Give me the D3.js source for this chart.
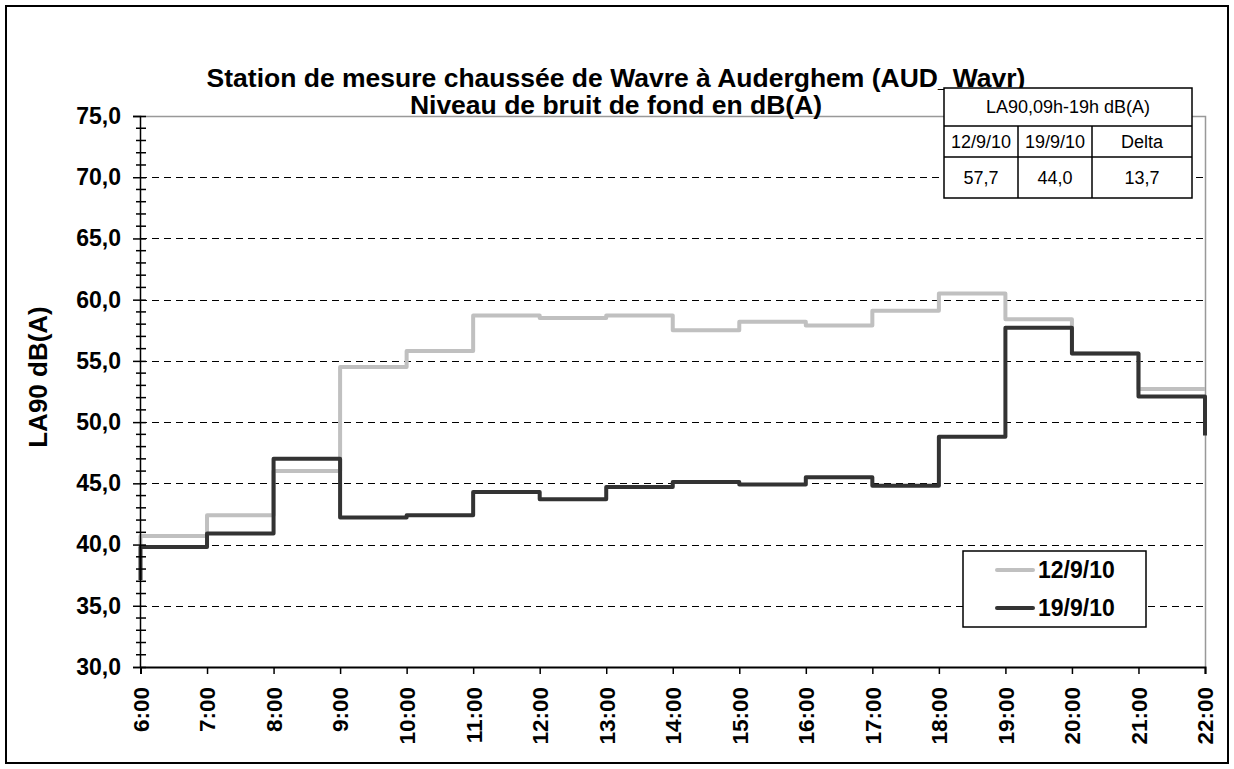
<!DOCTYPE html>
<html>
<head>
<meta charset="utf-8">
<script src="https://cdn.jsdelivr.net/npm/d3@7"></script>
<style>
  body { margin: 0; background: #fff; }
  text { font-family: Arial, "Liberation Sans", sans-serif; }
</style>
</head>
<body>
<div id="chart"></div>
<script>
// Data
var hourLabels = ["6:00","7:00","8:00","9:00","10:00","11:00","12:00","13:00","14:00",
                  "15:00","16:00","17:00","18:00","19:00","20:00","21:00","22:00"];
var hours = d3.range(6, 23);

// hourly LA90 (value held from each hour to the next), plus start / end values
var sep12 = [40.7, 42.4, 46.0, 54.5, 55.8, 58.7, 58.5, 58.7, 57.5, 58.2, 57.9, 59.1, 60.5, 58.4, 55.6, 52.7];
var sep12Start = 40.0, sep12End = 52.7;
var sep19 = [39.8, 40.9, 47.0, 42.2, 42.4, 44.3, 43.7, 44.7, 45.1, 44.9, 45.5, 44.8, 48.8, 57.7, 55.6, 52.1];
var sep19Start = 37.1, sep19End = 48.9;

var seriesNames = ["12/9/10", "19/9/10"];
var seriesColors = ["#c0c0c0", "#333333"];

var yTicks = [30, 35, 40, 45, 50, 55, 60, 65, 70, 75];

var tableHeader = "LA90,09h-19h dB(A)";
var tableCols = ["12/9/10", "19/9/10", "Delta"];
var tableVals = ["57,7", "44,0", "13,7"];

// SVG
var svgWidth = 1234;
var svgHeight = 769;
var margin = { top: 116, right: 29, bottom: 102, left: 140 };
var width = 1205 - margin.left;
var height = 667 - margin.top;

var svg = d3.select("#chart")
  .append("svg")
  .attr("width", svgWidth)
  .attr("height", svgHeight);

// outer frame
svg.append("rect")
  .attr("x", 6).attr("y", 6)
  .attr("width", 1222).attr("height", 757)
  .attr("fill", "#fff")
  .attr("stroke", "#000")
  .attr("stroke-width", 2);

var chartGroup = svg.append("g")
  .attr("transform", `translate(${margin.left}, ${margin.top})`);

// Scales
var xScale = d3.scaleLinear().domain([6, 22]).range([0.5, width]);
var yScale = d3.scaleLinear().domain([30, 75]).range([height, 0]);

// plot area border (top + right, grey)
chartGroup.append("path")
  .attr("d", `M0.5,0.5H${width + 0.5}V${height}`)
  .attr("fill", "none")
  .attr("stroke", "#999")
  .attr("stroke-width", 1.5);

// dashed gridlines
chartGroup.append("g")
  .selectAll("line")
  .data(yTicks.filter(d => d > 30 && d < 75))
  .enter()
  .append("line")
  .attr("x1", 0).attr("x2", width)
  .attr("y1", d => Math.round(yScale(d)) + 0.5)
  .attr("y2", d => Math.round(yScale(d)) + 0.5)
  .attr("stroke", "#000")
  .attr("stroke-dasharray", "7,5");

// step lines
function stepPoints(start, vals, end) {
  var pts = [[6, start]];
  vals.forEach(function(v, i) { pts.push([6 + i, v]); });
  pts.push([22, end]);
  return pts;
}

var line = d3.line()
  .x(d => xScale(d[0]))
  .y(d => yScale(d[1]))
  .curve(d3.curveStepAfter);

var allSeries = [stepPoints(sep12Start, sep12, sep12End), stepPoints(sep19Start, sep19, sep19End)];

chartGroup.selectAll(".series")
  .data(allSeries)
  .enter()
  .append("path")
  .attr("class", "series")
  .attr("d", line)
  .attr("fill", "none")
  .attr("stroke", (d, i) => seriesColors[i])
  .attr("stroke-width", 4)
  .attr("stroke-linejoin", "round");

// Y axis
var leftAxis = d3.axisLeft(yScale)
  .tickValues(yTicks)
  .tickSize(7)
  .tickPadding(12)
  .tickFormat(d => d3.format(".1f")(d).replace(".", ","));

var yAxisG = chartGroup.append("g").call(leftAxis);
yAxisG.select(".domain").attr("stroke", "#000").attr("stroke-width", 1.5);
yAxisG.selectAll(".tick line").attr("x2", -7).attr("x1", 6).attr("stroke-width", 1.5);
yAxisG.selectAll("text")
  .style("font-size", "23px")
  .style("font-weight", "bold")
  .attr("fill", "#000");

// minor ticks
yAxisG.append("g")
  .selectAll("line")
  .data(d3.range(30, 76, 1).filter(d => d % 5 !== 0))
  .enter()
  .append("line")
  .attr("x1", -4).attr("x2", 6)
  .attr("y1", d => yScale(d)).attr("y2", d => yScale(d))
  .attr("stroke", "#000")
  .attr("stroke-width", 1.5);

// X axis
var bottomAxis = d3.axisBottom(xScale)
  .tickValues(hours)
  .tickSize(7)
  .tickFormat((d, i) => hourLabels[i]);

var xAxisG = chartGroup.append("g")
  .attr("transform", `translate(0, ${height})`)
  .call(bottomAxis);
xAxisG.select(".domain").attr("stroke", "#000").attr("stroke-width", 2);
xAxisG.selectAll(".tick line").attr("stroke-width", 1.5);
xAxisG.selectAll("text")
  .attr("transform", "rotate(-90)")
  .attr("x", -20)
  .attr("y", 0)
  .attr("dy", "0.35em")
  .style("text-anchor", "end")
  .style("font-size", "22.5px")
  .style("font-weight", "bold")
  .attr("fill", "#000");

// Y axis label
svg.append("text")
  .attr("transform", "rotate(-90)")
  .attr("x", -377)
  .attr("y", 38)
  .attr("dy", "0.35em")
  .style("text-anchor", "middle")
  .style("font-size", "26px")
  .style("font-weight", "bold")
  .text("LA90 dB(A)");

// Title
svg.append("text")
  .attr("x", 616).attr("y", 87)
  .style("text-anchor", "middle")
  .style("font-size", "26.5px")
  .style("font-weight", "bold")
  .text("Station de mesure chaussée de Wavre à Auderghem (AUD_Wavr)");

svg.append("text")
  .attr("x", 616).attr("y", 114)
  .style("text-anchor", "middle")
  .style("font-size", "26.5px")
  .style("font-weight", "bold")
  .text("Niveau de bruit de fond en dB(A)");

// Summary table
var tab = svg.append("g").attr("transform", "translate(944, 88)");
var colX = [0, 74, 148, 248];
var rowY = [0, 38, 69, 110];

tab.append("rect")
  .attr("width", 248).attr("height", 110)
  .attr("fill", "#fff").attr("stroke", "#000").attr("stroke-width", 1.5);

tab.selectAll(".hline")
  .data([rowY[1], rowY[2]])
  .enter()
  .append("line")
  .attr("x1", 0).attr("x2", 248)
  .attr("y1", d => d).attr("y2", d => d)
  .attr("stroke", "#000").attr("stroke-width", 1.5);

tab.selectAll(".vline")
  .data([colX[1], colX[2]])
  .enter()
  .append("line")
  .attr("x1", d => d).attr("x2", d => d)
  .attr("y1", rowY[1]).attr("y2", rowY[3])
  .attr("stroke", "#000").attr("stroke-width", 1.5);

tab.append("text")
  .attr("x", 124).attr("y", 19)
  .attr("dy", "0.35em")
  .style("text-anchor", "middle")
  .style("font-size", "18px")
  .text(tableHeader);

tab.selectAll(".colh")
  .data(tableCols)
  .enter()
  .append("text")
  .attr("x", (d, i) => (colX[i] + colX[i + 1]) / 2)
  .attr("y", (rowY[1] + rowY[2]) / 2)
  .attr("dy", "0.35em")
  .style("text-anchor", "middle")
  .style("font-size", "18px")
  .text(d => d);

tab.selectAll(".val")
  .data(tableVals)
  .enter()
  .append("text")
  .attr("x", (d, i) => (colX[i] + colX[i + 1]) / 2)
  .attr("y", (rowY[2] + rowY[3]) / 2)
  .attr("dy", "0.35em")
  .style("text-anchor", "middle")
  .style("font-size", "18px")
  .text(d => d);

// Legend
var legend = svg.append("g").attr("transform", "translate(963, 551)");
legend.append("rect")
  .attr("width", 183).attr("height", 76)
  .attr("fill", "#fff").attr("stroke", "#000").attr("stroke-width", 1.5);

var legendItems = legend.selectAll(".item")
  .data(seriesNames)
  .enter()
  .append("g")
  .attr("transform", (d, i) => `translate(0, ${19 + i * 38})`);

legendItems.append("line")
  .attr("x1", 34).attr("x2", 70)
  .attr("stroke", (d, i) => seriesColors[i])
  .attr("stroke-width", 4)
  .attr("stroke-linecap", "round");

legendItems.append("text")
  .attr("x", 75)
  .attr("dy", "0.35em")
  .style("font-size", "23px")
  .style("font-weight", "bold")
  .text(d => d);
</script>
</body>
</html>
